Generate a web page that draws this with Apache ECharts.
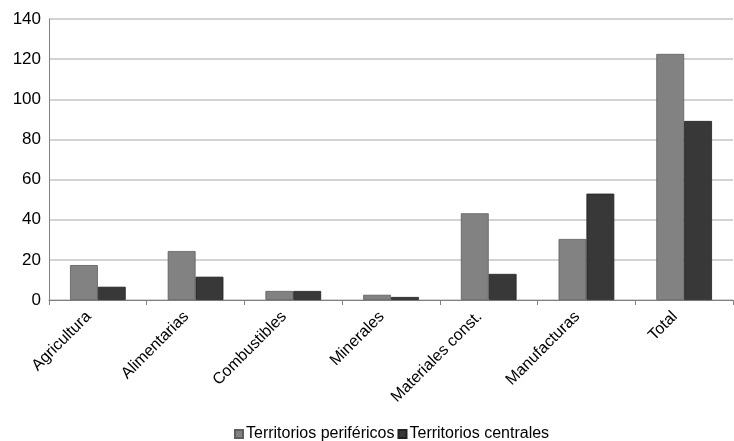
<!DOCTYPE html>
<html><head><meta charset="utf-8">
<script src="https://cdn.jsdelivr.net/npm/echarts@6/dist/echarts.min.js"></script>
<style>html,body{margin:0;padding:0;background:#fff}#c{width:734px;height:441px}</style>
</head><body><div id="c"></div>
<script>
var categories = ['Agricultura','Alimentarias','Combustibles','Minerales','Materiales const.','Manufacturas','Total'];
var perifericos = [17.4, 24.4, 4.5, 2.6, 43.2, 30.4, 122.6];
var centrales = [6.6, 11.6, 4.5, 1.5, 13.0, 53.0, 89.2];
var yTicks = [0, 20, 40, 60, 80, 100, 120, 140];

var chart = echarts.init(document.getElementById('c'), null, {renderer:'canvas'});
chart.setOption({
  animation: false,
  textStyle: {fontFamily: 'Liberation Sans, Arial, sans-serif'},
  grid: {left: 49, right: 1, top: 19, bottom: 141, containLabel: false},
  legend: {
    top: 421, left: 229, itemWidth: 8, itemHeight: 8, itemGap: 3,
    icon: 'rect',
    textStyle: {fontSize: 16, color: '#000', padding: [0,0,0,-2]},
    data: ['Territorios periféricos','Territorios centrales']
  },
  xAxis: {
    type: 'category', data: categories,
    axisLine: {lineStyle: {color: '#808080', width: 1}},
    axisTick: {show: true, alignWithLabel: false, length: 5, lineStyle: {color: '#808080'}},
    axisLabel: {rotate: 45, fontSize: 16, color: '#000', margin: 5, padding: [0, 13, 0, 0], interval: 0}
  },
  yAxis: {
    type: 'value', min: yTicks[0], max: yTicks[yTicks.length-1], interval: 20,
    axisLine: {show: true, lineStyle: {color: '#808080'}},
    axisTick: {show: false},
    splitLine: {lineStyle: {color: '#c4c4c4', width: 1.5}},
    axisLabel: {fontSize: 17, color: '#000', margin: 8}
  },
  series: [
    {name: 'Territorios periféricos', type: 'bar', data: perifericos,
     barGap: '0%', barCategoryGap: '43%',
     itemStyle: {color: '#828282', borderColor: '#5e5e5e', borderWidth: 0.8}},
    {name: 'Territorios centrales', type: 'bar', data: centrales,
     itemStyle: {color: '#383838', borderColor: '#222', borderWidth: 0.8}}
  ]
});
</script></body></html>
